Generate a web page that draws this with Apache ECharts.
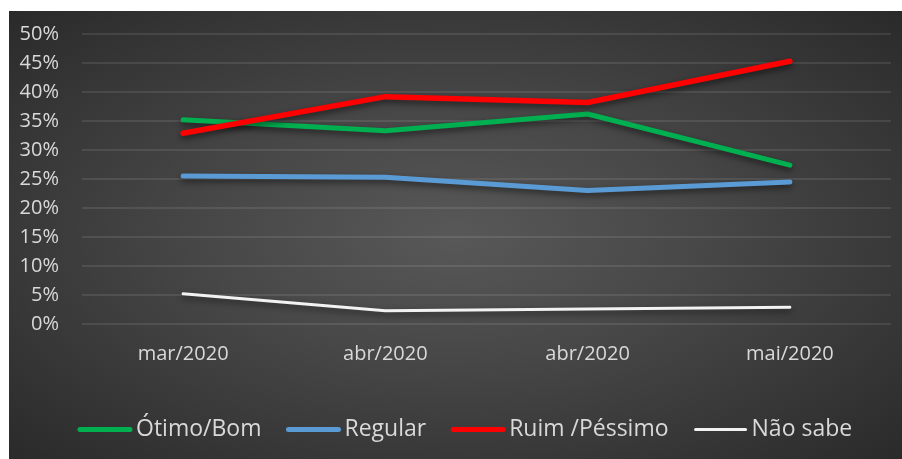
<!DOCTYPE html>
<html>
<head>
<meta charset="utf-8">
<script src="https://cdn.jsdelivr.net/npm/echarts@6/dist/echarts.min.js"></script>
<style>
  html, body { margin: 0; padding: 0; background: #ffffff; width: 902px; height: 459px; overflow: hidden; }
  #chart {
    position: absolute; left: 9px; top: 11px; width: 893px; height: 448px;
    background: radial-gradient(ellipse at 50% 50%, #585858 0%, #474747 40%, #2a2a2a 100%);
  }
</style>
</head>
<body>
<div id="chart"></div>
<script>
const categories = ['mar/2020', 'abr/2020', 'abr/2020', 'mai/2020'];
const otimoBom = [35.2, 33.3, 36.2, 27.4];
const regular = [25.5, 25.3, 23.0, 24.5];
const ruimPessimo = [32.9, 39.2, 38.2, 45.3];
const naoSabe = [5.2, 2.3, 2.6, 2.9];
const seriesNames = ['Ótimo/Bom', 'Regular', 'Ruim /Péssimo', 'Não sabe'];
const seriesColors = ['#00b050', '#5b9bd5', '#ff0000', '#f2f2f2'];
const seriesWidths = [5, 5, 5.5, 3];
const seriesValues = [otimoBom, regular, ruimPessimo, naoSabe];

// legend icons: rounded bars (thick for coloured series, thinner for white)
const thickIcon = 'path://M0,0 M56,6 M3,0.5 H53 A2.5,2.5 0 0 1 53,5.5 H3 A2.5,2.5 0 0 1 3,0.5 Z';
const thinIcon = 'path://M0,0 M56,6 M3,1.5 H53 A1.5,1.5 0 0 1 53,4.5 H3 A1.5,1.5 0 0 1 3,1.5 Z';

const chart = echarts.init(document.getElementById('chart'), null, { renderer: 'canvas' });
const font = '"Open Sans", "Noto Sans", sans-serif';

chart.setOption({
  backgroundColor: 'transparent',
  animation: false,
  grid: { left: 73, right: 11, top: 23, bottom: 135, containLabel: false },
  xAxis: {
    type: 'category',
    data: categories,
    boundaryGap: true,
    axisLine: { show: false },
    axisTick: { show: false },
    axisLabel: { color: '#d9d9d9', fontSize: 20, fontFamily: font, margin: 20, interval: 0 }
  },
  yAxis: {
    type: 'value',
    min: 0, max: 50, interval: 5,
    axisLine: { show: false },
    axisTick: { show: false },
    axisLabel: { color: '#d9d9d9', fontSize: 20, fontFamily: font, margin: 23, formatter: '{value}%' },
    splitLine: { lineStyle: { color: 'rgba(255,255,255,0.13)', width: 1.5 } }
  },
  legend: {
    data: seriesNames.map((n, i) => ({ name: n, icon: seriesWidths[i] > 4 ? thickIcon : thinIcon })),
    left: 63,
    top: 402,
    itemWidth: 56,
    itemHeight: 6,
    itemGap: 24,
    symbolKeepAspect: false,
    itemStyle: { shadowBlur: 0, shadowColor: 'transparent', borderWidth: 0 },
    textStyle: { color: '#d9d9d9', fontSize: 23, fontFamily: font, padding: [0, 0, 0, -2] }
  },
  series: seriesNames.map((name, i) => ({
    name: name,
    type: 'line',
    data: seriesValues[i],
    symbol: 'none',
    color: seriesColors[i],
    lineStyle: {
      color: seriesColors[i], width: seriesWidths[i], cap: 'round', join: 'round',
      shadowColor: 'rgba(0,0,0,0.55)', shadowBlur: 6, shadowOffsetY: 3
    }
  }))
});
</script>
</body>
</html>
